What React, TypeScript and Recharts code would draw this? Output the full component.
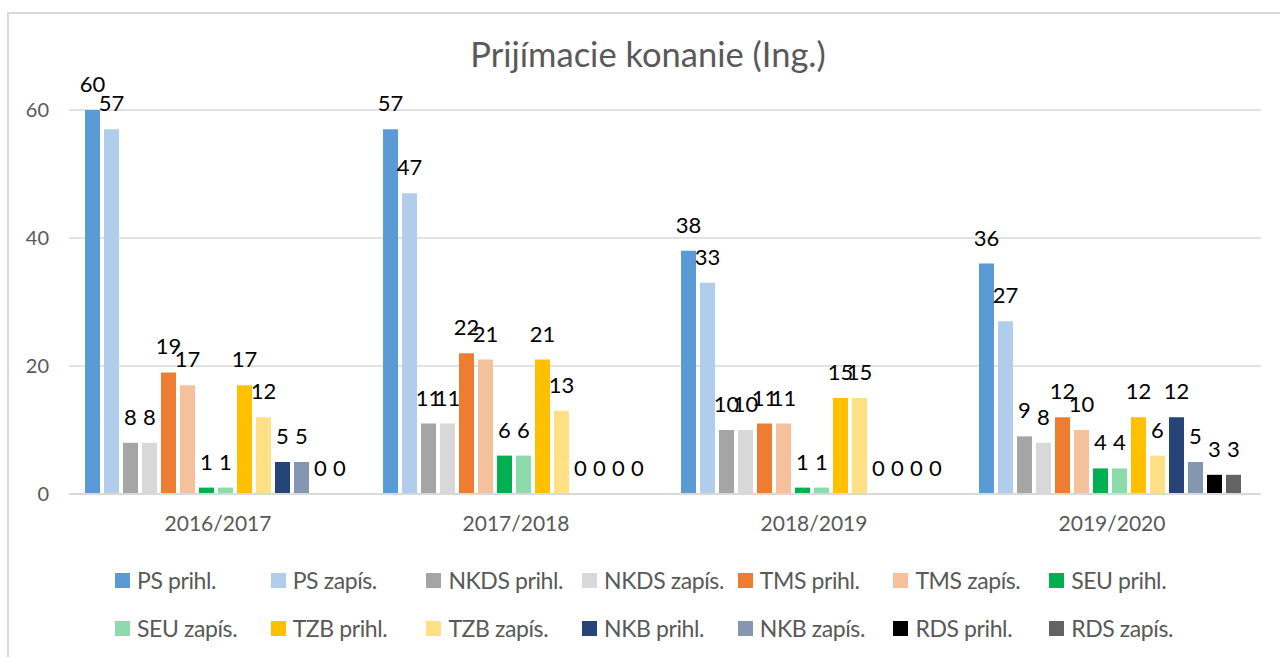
import React from 'react';
import { BarChart, Bar, XAxis, YAxis, CartesianGrid, Legend, LabelList } from 'recharts';

const categories = ['2016/2017', '2017/2018', '2018/2019', '2019/2020'];

const psPrihl = [60, 57, 38, 36];
const psZapis = [57, 47, 33, 27];
const nkdsPrihl = [8, 11, 10, 9];
const nkdsZapis = [8, 11, 10, 8];
const tmsPrihl = [19, 22, 11, 12];
const tmsZapis = [17, 21, 11, 10];
const seuPrihl = [1, 6, 1, 4];
const seuZapis = [1, 6, 1, 4];
const tzbPrihl = [17, 21, 15, 12];
const tzbZapis = [12, 13, 15, 6];
const nkbPrihl = [5, 0, 0, 12];
const nkbZapis = [5, 0, 0, 5];
const rdsPrihl = [0, 0, 0, 3];
const rdsZapis = [0, 0, 0, 3];

const yTicks = [0, 20, 40, 60];

const series = [
  { key: 'psPrihl', name: 'PS prihl.', values: psPrihl, color: '#5B9BD5' },
  { key: 'psZapis', name: 'PS zapís.', values: psZapis, color: '#B0CDEB' },
  { key: 'nkdsPrihl', name: 'NKDS prihl.', values: nkdsPrihl, color: '#A5A5A5' },
  { key: 'nkdsZapis', name: 'NKDS zapís.', values: nkdsZapis, color: '#D8D8D8' },
  { key: 'tmsPrihl', name: 'TMS prihl.', values: tmsPrihl, color: '#ED7D31' },
  { key: 'tmsZapis', name: 'TMS zapís.', values: tmsZapis, color: '#F5C19D' },
  { key: 'seuPrihl', name: 'SEU prihl.', values: seuPrihl, color: '#00B050' },
  { key: 'seuZapis', name: 'SEU zapís.', values: seuZapis, color: '#8DDAAA' },
  { key: 'tzbPrihl', name: 'TZB prihl.', values: tzbPrihl, color: '#FFC000' },
  { key: 'tzbZapis', name: 'TZB zapís.', values: tzbZapis, color: '#FFE085' },
  { key: 'nkbPrihl', name: 'NKB prihl.', values: nkbPrihl, color: '#264478' },
  { key: 'nkbZapis', name: 'NKB zapís.', values: nkbZapis, color: '#8497B0' },
  { key: 'rdsPrihl', name: 'RDS prihl.', values: rdsPrihl, color: '#000000' },
  { key: 'rdsZapis', name: 'RDS zapís.', values: rdsZapis, color: '#636363' },
];

const data = categories.map((year, i) => {
  const row: { [k: string]: any } = { year };
  series.forEach(s => {
    row[s.key] = s.values[i];
  });
  return row;
});

const FONT = 'Lato, "Noto Sans", sans-serif';

// value label above each bar (zeros too, as in the Excel chart)
const ValueLabel = (props: any) => {
  const { x, y, width, height, value } = props;
  if (value == null) return null;
  // zero bars get a tiny minPointSize so they keep a label; anchor on the bar's top edge
  const top = Math.min(Number(y), Number(y) + Number(height));
  return (
    <text x={Number(x) + Number(width) / 2} y={top - 18} textAnchor="middle" fill="#000" fontSize={22} fontFamily={FONT}>
      {value}
    </text>
  );
};

// two rows of seven, like the Excel legend
const LegendGrid = () => (
  <div style={{ paddingLeft: 115, fontFamily: FONT }}>
    {[0, 1].map(r => (
      <div key={r} style={{ display: 'flex', height: 48, alignItems: 'center' }}>
        {series.slice(r * 7, r * 7 + 7).map(s => (
          <div key={s.key} style={{ width: 155.7, display: 'flex', alignItems: 'center' }}>
            <span style={{ width: 15, height: 15, background: s.color, marginRight: 7, flexShrink: 0 }} />
            <span style={{ fontSize: 23, color: '#595959', whiteSpace: 'nowrap', letterSpacing: -0.4 }}>{s.name}</span>
          </div>
        ))}
      </div>
    ))}
  </div>
);

export default function App() {
  return (
    <div style={{ position: 'fixed', top: 0, left: 0, width: 1280, height: 657, background: '#fff', overflow: 'hidden' }}>
      <div
        style={{
          position: 'absolute',
          left: 7,
          top: 12,
          width: 1300,
          height: 700,
          border: '2px solid #D9D9D9',
          boxSizing: 'border-box',
        }}
      />
      <div
        style={{
          position: 'absolute',
          left: 648,
          top: 33,
          transform: 'translateX(-50%)',
          fontFamily: FONT,
          fontSize: 34.5,
          lineHeight: 1.2,
          color: '#595959',
          whiteSpace: 'nowrap',
        }}
      >
        Prijímacie konanie (Ing.)
      </div>
      <BarChart
        width={1280}
        height={657}
        data={data}
        margin={{ top: 110, right: 19, left: 0, bottom: 27 }}
        barCategoryGap={16}
        barGap={4}
        style={{ position: 'absolute', top: 0, left: 0, fontFamily: FONT }}
      >
        <CartesianGrid vertical={false} stroke="#D9D9D9" strokeWidth={1.5} />
        <XAxis
          dataKey="year"
          axisLine={{ stroke: '#D9D9D9', strokeWidth: 2 }}
          tickLine={false}
          tickMargin={16}
          height={40}
          tick={{ fill: '#595959', fontSize: 21 }}
        />
        <YAxis
          domain={[0, 60]}
          ticks={yTicks}
          axisLine={false}
          tickLine={false}
          width={69}
          tickMargin={14}
          tick={{ fill: '#595959', fontSize: 20 }}
        />
        <Legend
          verticalAlign="bottom"
          content={() => <LegendGrid />}
          wrapperStyle={{ top: 556, left: 0, width: 1280, height: 96 }}
        />
        {series.map(s => (
          <Bar key={s.key} dataKey={s.key} name={s.name} fill={s.color} minPointSize={0.01} isAnimationActive={false}>
            <LabelList dataKey={s.key} content={ValueLabel} />
          </Bar>
        ))}
      </BarChart>
    </div>
  );
}
